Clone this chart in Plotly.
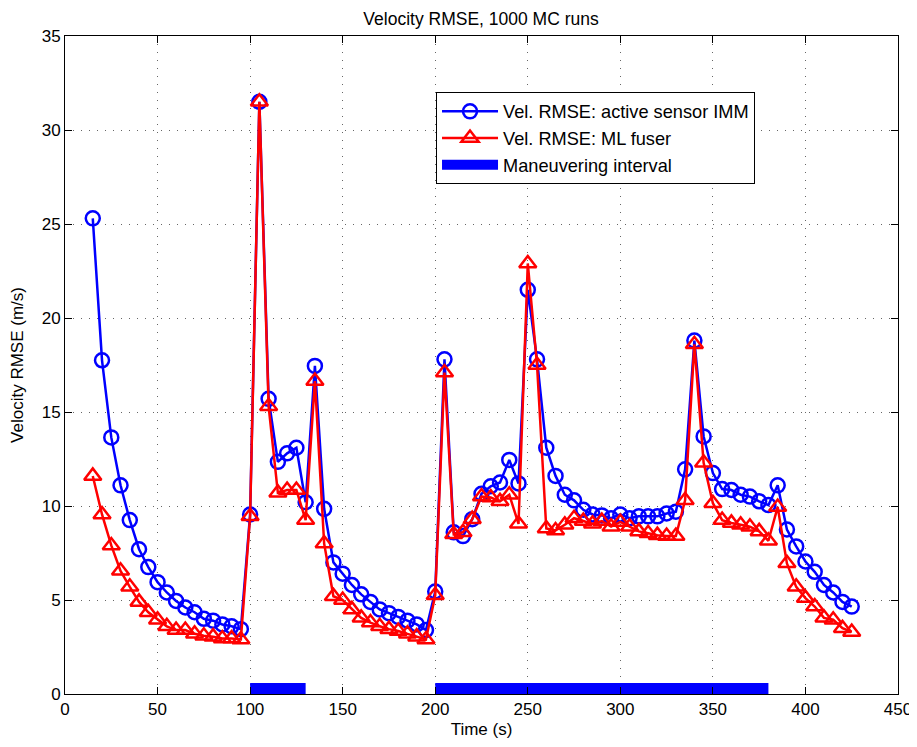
import plotly.graph_objects as go

time_s = [15, 20, 25, 30, 35, 40, 45, 50, 55, 60, 65, 70, 75, 80, 85, 90, 95,
          100, 105, 110, 115, 120, 125, 130, 135, 140, 145, 150, 155, 160, 165,
          170, 175, 180, 185, 190, 195, 200, 205, 210, 215, 220, 225, 230, 235,
          240, 245, 250, 255, 260, 265, 270, 275, 280, 285, 290, 295, 300, 305,
          310, 315, 320, 325, 330, 335, 340, 345, 350, 355, 360, 365, 370, 375,
          380, 385, 390, 395, 400, 405, 410, 415, 420, 425]

rmse_imm = [25.3, 17.75, 13.65, 11.1, 9.25, 7.7, 6.75, 5.95, 5.4, 4.95, 4.6, 4.35,
            4.0, 3.9, 3.7, 3.6, 3.45,
            9.55, 31.5, 15.7, 12.35, 12.8, 13.1, 10.2, 17.45, 9.85, 7.0, 6.4, 5.8,
            5.3, 4.9, 4.5, 4.3, 4.1, 3.9, 3.7, 3.4,
            5.45, 17.8, 8.6, 8.4, 9.3, 10.65, 11.05, 11.25, 12.45, 11.2, 21.5, 17.8,
            13.1, 11.6, 10.6, 10.3, 9.8, 9.55, 9.5, 9.35, 9.55, 9.35, 9.45, 9.45,
            9.45, 9.6, 9.7, 11.95, 18.8, 13.7, 11.75, 10.9, 10.85, 10.6, 10.5,
            10.25, 10.05, 11.1, 8.75, 7.85, 7.05, 6.5, 5.8, 5.4, 4.9, 4.65]

rmse_ml = [11.6, 9.55, 7.9, 6.55, 5.7, 4.9, 4.35, 3.95, 3.6, 3.4, 3.4, 3.2, 3.1,
           3.05, 2.95, 2.95, 2.9,
           9.45, 31.5, 15.3, 10.7, 10.85, 10.85, 9.25, 16.65, 8.0, 5.2, 5.0, 4.5,
           4.05, 3.8, 3.6, 3.45, 3.35, 3.2, 3.05, 2.9,
           5.25, 17.1, 8.5, 8.6, 9.3, 10.5, 10.45, 10.25, 10.6, 9.05, 22.9, 17.5,
           8.8, 8.7, 9.0, 9.35, 9.2, 9.05, 9.2, 8.9, 9.15, 8.9, 8.65, 8.55, 8.45,
           8.4, 8.4, 10.3, 18.6, 12.3, 10.15, 9.25, 9.1, 9.0, 8.9, 8.65, 8.15,
           9.95, 6.95, 5.7, 5.1, 4.65, 4.05, 3.95, 3.5, 3.3]

maneuver_start = [100, 200]
maneuver_end = [130, 380]

x_ticks = [0, 50, 100, 150, 200, 250, 300, 350, 400, 450]
y_ticks = [0, 5, 10, 15, 20, 25, 30, 35]

FONT = "Liberation Sans, Arial, Helvetica, sans-serif"
BLUE = "#0000ff"
RED = "#ff0000"

bar_x, bar_y = [], []
for s, e in zip(maneuver_start, maneuver_end):
    bar_x += [s, e, None]
    bar_y += [0, 0, None]

fig = go.Figure()

fig.add_trace(go.Scatter(
    x=bar_x, y=bar_y, mode="lines",
    line=dict(color=BLUE, width=22),
    showlegend=False, hoverinfo="skip"))

fig.add_trace(go.Scatter(
    x=time_s, y=rmse_imm, mode="lines+markers",
    name="Vel. RMSE: active sensor IMM",
    line=dict(color=BLUE, width=2.5),
    marker=dict(symbol="circle-open", size=14, color=BLUE,
                line=dict(width=2.5, color=BLUE))))

fig.add_trace(go.Scatter(
    x=time_s, y=rmse_ml, mode="lines+markers",
    name="Vel. RMSE: ML fuser",
    line=dict(color=RED, width=2.5),
    marker=dict(symbol="triangle-up-open", size=15, color=RED,
                line=dict(width=2.5, color=RED))))

fig.add_trace(go.Scatter(
    x=[None], y=[None], mode="lines",
    name="Maneuvering interval",
    line=dict(color=BLUE, width=11)))

axis_common = dict(
    showline=True, linecolor="black", linewidth=1, mirror="ticks",
    ticks="inside", ticklen=7, tickwidth=1, tickcolor="black",
    showgrid=True, gridcolor="#666666", gridwidth=1, griddash="1px,7px",
    zeroline=False, automargin=False,
    tickfont=dict(family=FONT, size=17, color="black"),
)

# the page adds an 8 px body margin, so the figure is sized to fit the window
fig.update_layout(
    width=909, height=739,
    margin=dict(l=57, r=19, t=28, b=53),
    paper_bgcolor="white", plot_bgcolor="white",
    font=dict(family=FONT, size=17, color="black"),
    title=dict(text="Velocity RMSE, 1000 MC runs", x=0.5204, xanchor="center",
               y=0.985, yanchor="middle",
               font=dict(family=FONT, size=17.5, color="black")),
    xaxis=dict(range=[0, 450], tickvals=x_ticks,
               title=dict(text="Time (s)", standoff=4,
                          font=dict(family=FONT, size=17)),
               **axis_common),
    yaxis=dict(range=[0, 35], tickvals=y_ticks,
               title=dict(text="Velocity RMSE (m/s)", standoff=14,
                          font=dict(family=FONT, size=17)),
               **axis_common),
    legend=dict(x=0.4454, y=0.9149, xanchor="left", yanchor="top",
                bgcolor="white", bordercolor="black", borderwidth=1,
                font=dict(family=FONT, size=18.2, color="black"),
                itemwidth=56, tracegroupgap=0),
    showlegend=True,
)

fig.write_html("out.html")
